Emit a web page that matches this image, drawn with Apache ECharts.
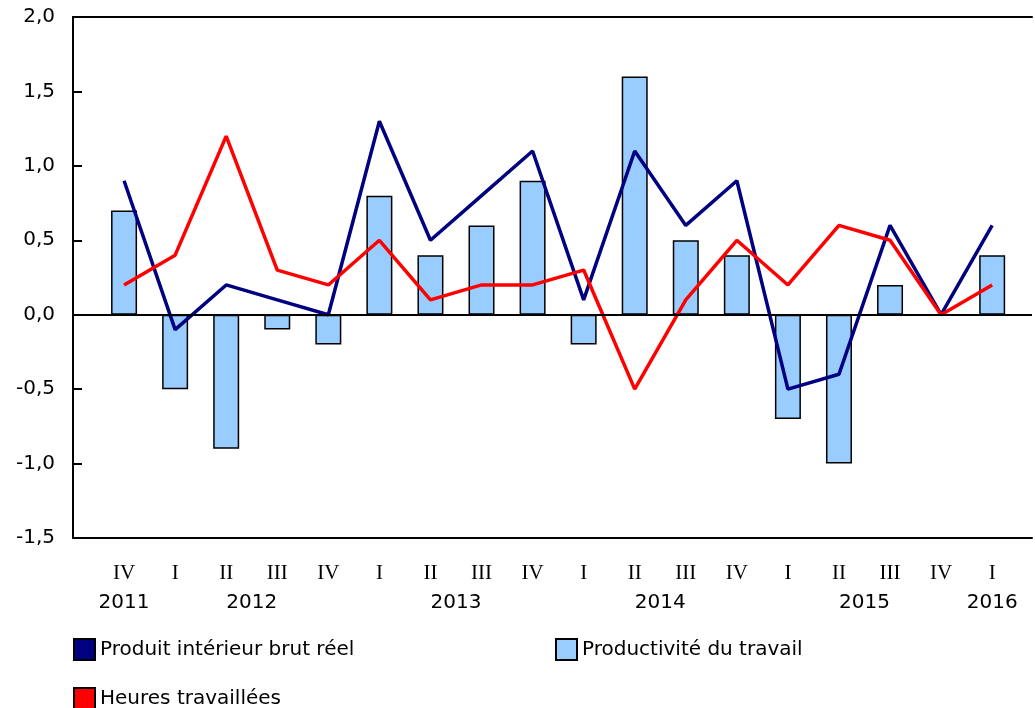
<!DOCTYPE html>
<html><head><meta charset="utf-8">
<script src="https://cdn.jsdelivr.net/npm/echarts@6/dist/echarts.min.js"></script>
<style>html,body{margin:0;padding:0;background:#fff}#c{width:1035px;height:708px}</style>
</head><body><div id="c"></div>
<script>
const quarters = ['IV','I','II','III','IV','I','II','III','IV','I','II','III','IV','I','II','III','IV','I'];
const years = ['2011','','2012','','','','2013','','','','2014','','','','2015','','','2016'];
const yearShift = [false,false,true,false,false,false,true,false,false,false,true,false,false,false,true,false,false,false];
const gdp = [0.9,-0.1,0.2,0.1,0.0,1.3,0.5,0.8,1.1,0.1,1.1,0.6,0.9,-0.5,-0.4,0.6,0.0,0.6];
const productivity = [0.7,-0.5,-0.9,-0.1,-0.2,0.8,0.4,0.6,0.9,-0.2,1.6,0.5,0.4,-0.7,-1.0,0.2,0.0,0.4];
const hours = [0.2,0.4,1.2,0.3,0.2,0.5,0.1,0.2,0.2,0.3,-0.5,0.1,0.5,0.2,0.6,0.5,0.0,0.2];
const names = ['Produit intérieur brut réel','Productivité du travail','Heures travaillées'];

const pts = a => a.map((v,i)=>[i, v]);
const xMax = 17.78;

const chart = echarts.init(document.getElementById('c'));
const F = 'DejaVu Sans, Verdana, sans-serif';
const legendBase = {icon:'rect', itemWidth:21, itemHeight:21, itemGap:8, orient:'horizontal', padding:0,
  textStyle:{fontFamily:F, fontSize:20, color:'#000'}, itemStyle:{borderColor:'#000', borderWidth:2}};
chart.setOption({
  animation:false,
  grid:{left:73, top:17, height:521, right:0},
  legend:[
    Object.assign({left:73, top:638, data:[names[0]]}, legendBase),
    Object.assign({left:555, top:638, data:[names[1]]}, legendBase),
    Object.assign({left:73, top:687, data:[names[2]]}, legendBase)
  ],
  xAxis:[{
    type:'value', min:-1, max:xMax, interval:1, position:'bottom',
    axisLine:{onZero:false, lineStyle:{color:'#000', width:2}},
    axisTick:{show:false}, splitLine:{show:false},
    axisLabel:{hideOverlap:false, showMinLabel:true, showMaxLabel:true, margin:21,
      formatter:(v)=>{
        const i = Math.round(v);
        if (Math.abs(v - i) > 1e-6 || i < 0 || i >= quarters.length) return '';
        const y = years[i];
        let s = '{q|'+quarters[i]+'}';
        if (y) s += '\n' + (yearShift[i] ? '{ys|'+y+'}' : '{y|'+y+'}');
        else s += '\n{y| }';
        return s;
      },
      rich:{
        q:{fontFamily:'Liberation Serif, Times New Roman, serif', fontSize:21, color:'#000', lineHeight:29},
        y:{fontFamily:F, fontSize:20, color:'#000', lineHeight:29},
        ys:{fontFamily:F, fontSize:20, color:'#000', lineHeight:29, padding:[0,0,0,51]}
      }
    }
  },{
    type:'value', min:-1, max:xMax, interval:1, position:'top',
    axisLine:{onZero:false, lineStyle:{color:'#000', width:2}},
    axisTick:{show:false}, axisLabel:{show:false}, splitLine:{show:false}
  }],
  yAxis:{
    type:'value', min:-1.5, max:2, interval:0.5, position:'left',
    axisLine:{show:true, onZero:false, lineStyle:{color:'#000', width:2}},
    axisTick:{show:true, inside:true, length:9, lineStyle:{color:'#000', width:2}},
    splitLine:{show:false},
    axisLabel:{margin:18, fontFamily:F, fontSize:20, color:'#000',
      formatter:v=>v.toFixed(1).replace('.',',')}
  },
  series:[
    {name:names[1], type:'bar', data:pts(productivity), barWidth:26,
      itemStyle:{color:'#99CCFF', borderColor:'#000', borderWidth:1.5},
      markLine:{silent:true, symbol:'none', label:{show:false},
        lineStyle:{color:'#000', width:2, type:'solid'}, data:[{yAxis:0}]}},
    {name:names[0], type:'line', data:pts(gdp), showSymbol:false, symbol:'none',
      lineStyle:{color:'#000080', width:3.5}, itemStyle:{color:'#000080'}, z:3},
    {name:names[2], type:'line', data:pts(hours), showSymbol:false, symbol:'none',
      lineStyle:{color:'#FF0000', width:3.5}, itemStyle:{color:'#FF0000'}, z:4}
  ]
});
</script></body></html>
